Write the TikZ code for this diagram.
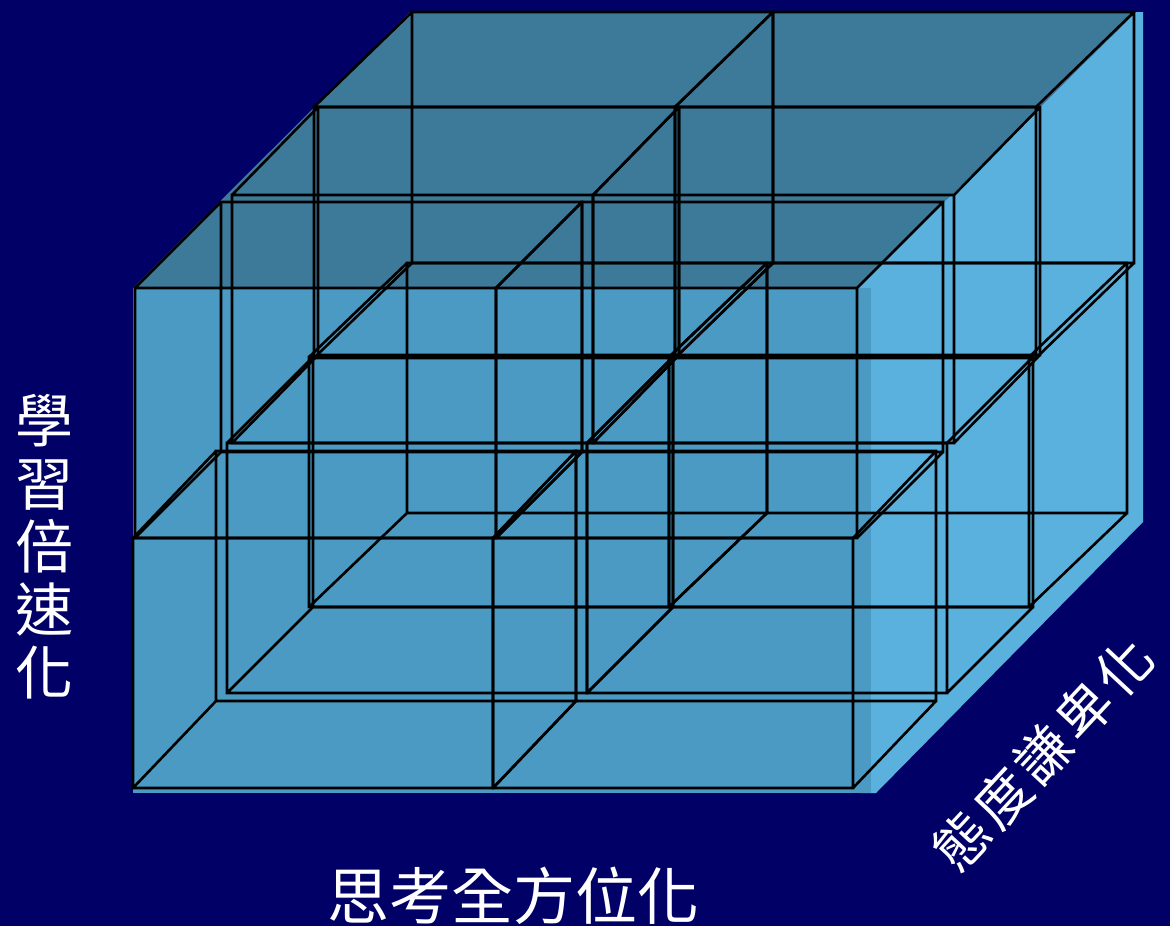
\documentclass[tikz,border=0pt]{standalone}
\usepackage{fontspec}
\newfontfamily\cjk{Noto Sans CJK TC}
\definecolor{slidebg}{HTML}{000066}
\definecolor{frontblue}{HTML}{4A9AC3}
\definecolor{topblue}{HTML}{3D7A99}
\definecolor{sideblue}{HTML}{5AB1DE}

% one open box: front top-left, back top-left, width, height (pixel units)
\newcommand{\wirebox}[6]{%
  \draw[wire] (#1,#2) rectangle ++(#5,#6)
    (#3,#4) rectangle ++(#5,#6)
    (#1,#2) -- (#3,#4)
    ({#1+#5},#2) -- ({#3+#5},#4)
    (#1,{#2+#6}) -- (#3,{#4+#6})
    ({#1+#5},{#2+#6}) -- ({#3+#5},{#4+#6});
}

\begin{document}
\begin{tikzpicture}[
      x=1pt, y=-1pt,
      wire/.style={draw=black, line width=2.6pt, line join=miter},
      axislabel/.style={
        text=white, inner sep=0pt,
        font=\cjk\fontsize{62}{66}\selectfont
      }
    ]

    \fill[slidebg] (0,0) rectangle (1170,926);
    \useasboundingbox (0,0) rectangle (1170,926);

    % Big translucent block: side, top and front faces
    \fill[sideblue] (857,288) -- (1136,12) -- (1143,12) -- (1143,522)
        -- (876,793) -- (860,793) -- cycle;
    \fill[topblue] (133,288) -- (410,12) -- (1136,12) -- (857,288) -- cycle;
    \fill[frontblue] (133,288) rectangle (871,793);

    % Upper row, three layers deep
    \wirebox{135}{288}{221}{202}{361}{250}
    \wirebox{232}{195}{318}{107}{361}{248}
    \wirebox{314}{107}{412}{12}{361}{251}
    \wirebox{496}{288}{582}{202}{361}{250}
    \wirebox{593}{195}{679}{107}{361}{248}
    \wirebox{675}{107}{773}{12}{361}{251}

    % Lower row, three layers deep
    \wirebox{133}{538}{216}{451}{360}{250}
    \wirebox{227}{443}{313}{357}{360}{250}
    \wirebox{309}{357}{407}{263}{360}{250}
    \wirebox{493}{538}{576}{451}{360}{250}
    \wirebox{587}{443}{673}{357}{360}{250}
    \wirebox{669}{357}{767}{263}{360}{250}

    % Axis labels
    \node[axislabel, align=center, font=\cjk\fontsize{58}{63}\selectfont]
        (speed) at (44,547) {學\\習\\倍\\速\\化};
    \node[axislabel] (thinking) at (513,896) {思考全方位化};
    \node[axislabel, rotate=47,
          font=\cjk\addfontfeature{LetterSpace=8}\fontsize{55}{62}\selectfont]
        (humility) at (1043,754) {態度謙卑化};
    \end{tikzpicture}
\end{document}
